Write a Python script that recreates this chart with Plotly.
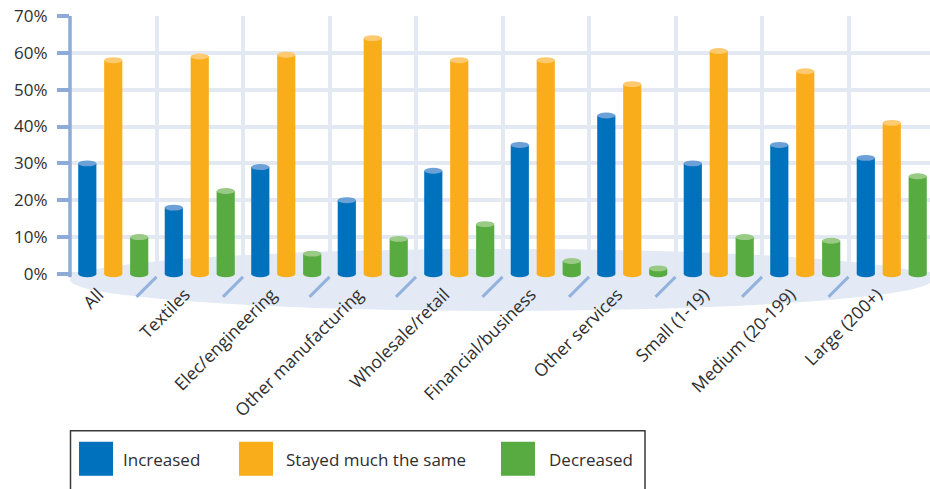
import plotly.graph_objects as go

# ---- data -------------------------------------------------------------
categories = ["All", "Textiles", "Elec/engineering", "Other manufacturing",
              "Wholesale/retail", "Financial/business", "Other services",
              "Small (1-19)", "Medium (20-199)", "Large (200+)"]
increased = [30, 18, 29, 20, 28, 35, 43, 30, 35, 31.5]
stayed_same = [58, 59, 59.5, 64, 58, 58, 51.5, 60.5, 55, 41]
decreased = [10, 22.5, 5.5, 9.5, 13.5, 3.5, 1.5, 10, 9, 26.5]
y_ticks = [0, 10, 20, 30, 40, 50, 60, 70]

series = [
    ("Increased", increased, "#0071bc", "#6ba1d6"),
    ("Stayed much the same", stayed_same, "#f9ad1a", "#fdca70"),
    ("Decreased", decreased, "#57ab41", "#9acb86"),
]

# ---- geometry ---------------------------------------------------------
W, H = 930, 489
ML, MT = 70, 16
Y_MIN, Y_MAX = -2.2, 70
PX_PER_UNIT = (274 - MT) / 70.0
plot_bottom = MT + (Y_MAX - Y_MIN) * PX_PER_UNIT
MB = H - plot_bottom
CAT_PX = 86.5
X_MIN = -0.5
X_MAX = X_MIN + (W - ML) / CAT_PX

BAR_W = 0.21
SHIFTS = [-0.3, 0.0, 0.3]
CAP = 0.8
LABEL_SHIFT = -0.17  # slanted labels sit a little left of the group centre

TEXT = "#2e2e2e"
GRID = "#e3e9f3"
AXIS = "#8eabd8"
FLOOR = "#e3eaf5"
FONT = "Open Sans"


def px_x(X):
    return (X - ML) / (W - ML)


def px_y(Y):
    return (plot_bottom - Y) / (plot_bottom - MT)


fig = go.Figure()
shapes = []

n = len(categories)
for (name, vals, col, cap_col), d in zip(series, SHIFTS):
    fig.add_trace(go.Bar(
        x=list(range(n)), y=vals, name=name,
        width=BAR_W, offset=d - BAR_W / 2,
        marker=dict(color=col, line=dict(width=0)),
        showlegend=False, hoverinfo="skip",
    ))
    for i, v in enumerate(vals):
        x0, x1 = i + d - BAR_W / 2, i + d + BAR_W / 2
        # rounded base of the cylinder
        shapes.append(dict(type="circle", xref="x", yref="y",
                           x0=x0, x1=x1, y0=-CAP - 0.1, y1=CAP + 0.1,
                           fillcolor=col, line=dict(width=0), layer="above"))
        # lighter top face
        shapes.append(dict(type="circle", xref="x", yref="y",
                           x0=x0, x1=x1, y0=v - CAP, y1=v + CAP,
                           fillcolor=cap_col, line=dict(width=0), layer="above"))

# floor of the chart
shapes.append(dict(type="circle", xref="paper", yref="paper",
                   x0=px_x(70), x1=px_x(932), y0=px_y(311), y1=px_y(249),
                   fillcolor=FLOOR, line=dict(width=0), layer="between"))

# slanted separators between categories
for b in range(n - 1):
    xb = b + 0.5
    shapes.append(dict(type="line", xref="x", yref="paper",
                       x0=xb, x1=xb - 20 / CAT_PX, y0=px_y(277), y1=px_y(297),
                       line=dict(color="#93b2dd", width=3), layer="above"))

# vertical axis line
shapes.append(dict(type="line", xref="paper", yref="y",
                   x0=0, x1=0, y0=-0.9, y1=70,
                   line=dict(color=AXIS, width=3.5), layer="above"))

# legend panel
shapes.append(dict(type="rect", xref="paper", yref="paper",
                   x0=px_x(70.5), x1=px_x(645), y0=px_y(500), y1=px_y(431),
                   fillcolor="rgba(0,0,0,0)", line=dict(color="#3a3a3a", width=1.5),
                   layer="above"))
legend_items = [(79, 121), (239, 284), (501, 547)]
annotations = []
for (name, vals, col, cap_col), (sx, tx) in zip(series, legend_items):
    shapes.append(dict(type="rect", xref="paper", yref="paper",
                       x0=px_x(sx), x1=px_x(sx + 34), y0=px_y(476), y1=px_y(442),
                       fillcolor=col, line=dict(width=0), layer="above"))
    annotations.append(dict(text=name, xref="paper", yref="paper",
                            x=px_x(tx), y=px_y(460), xanchor="left", yanchor="middle",
                            showarrow=False, font=dict(family=FONT, size=17, color=TEXT)))

fig.update_layout(
    width=W, height=H,
    margin=dict(l=ML, r=0, t=MT, b=MB, autoexpand=False),
    paper_bgcolor="white", plot_bgcolor="white",
    barmode="overlay",
    showlegend=False,
    shapes=shapes,
    annotations=annotations,
    font=dict(family=FONT, color=TEXT),
    xaxis=dict(
        range=[X_MIN, X_MAX], tickmode="array",
        tickvals=[i + LABEL_SHIFT for i in range(n)], ticktext=categories,
        tickangle=-45, tickfont=dict(family=FONT, size=17.5, color=TEXT),
        ticks="", ticklabelstandoff=-2,
        showgrid=False, zeroline=False, showline=False,
        minor=dict(tickvals=[i + 0.5 for i in range(n)], showgrid=True,
                   gridcolor=GRID, gridwidth=3.5, ticks=""),
        fixedrange=True,
    ),
    yaxis=dict(
        range=[Y_MIN, Y_MAX], tickmode="array", tickvals=y_ticks,
        ticktext=[f"{t}%" for t in y_ticks],
        tickfont=dict(family=FONT, size=17, color=TEXT),
        ticks="outside", ticklen=12, tickwidth=3.5, tickcolor=AXIS,
        ticklabelstandoff=6,
        showgrid=True, gridcolor=GRID, gridwidth=3.5,
        zeroline=False, showline=False, fixedrange=True,
    ),
)

fig.write_html("out.html")
